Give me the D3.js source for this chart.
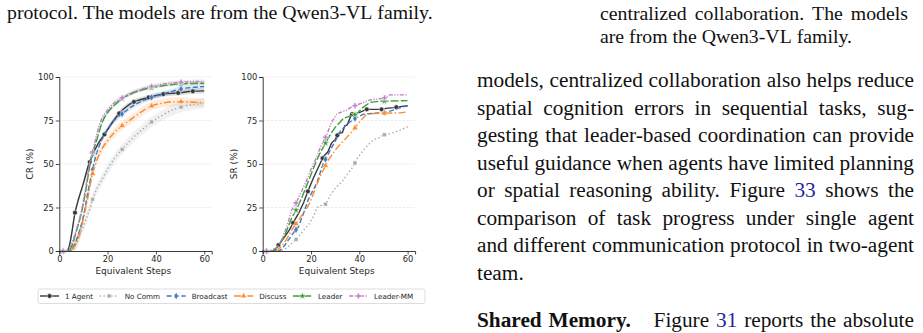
<!DOCTYPE html>
<html>
<head>
<meta charset="utf-8">
<script src="https://cdn.jsdelivr.net/npm/d3@7"></script>
<style>
body{margin:0;background:#fff}
</style>
</head>
<body>
<script>
// ---- data ----
var seriesNames = ["1 Agent","No Comm","Broadcast","Discuss","Leader","Leader-MM"];
var yTicks = [0,25,50,75,100];
var xTicks = [0,20,40,60];

// completion rate (left panel), [equivalent step, %]
var cr1Agent = [[0,0],[3,0],[4,2],[5,9],[6.5,22],[8,30],[10,39],[12,49],[14,56],[16,61.5],[19,67.6],[22,74],[25,79.5],[28,83.2],[31,85.8],[35,87.5],[39,89],[43,90.2],[49,90.8],[55,91.8],[60,92]];
var crNoComm = [[0,0],[5,0],[7,4],[9,11],[11,18],[13,26],[14,30.6],[16,37],[18,42],[20,47],[23,53.5],[26,58.4],[29,63],[32,67],[35,70.5],[38,74],[42,77.5],[46,80.5],[50,82.6],[55,84],[60,85]];
var crBroadcast = [[0,0],[4,0],[6,3],[8,10],[10,20],[12,35],[13.5,45],[15,54],[17,62],[20,70],[23,75.5],[26,78.8],[30,83],[34,86],[38,88.2],[42,89.8],[46,91.5],[50,93],[55,94],[60,94.5]];
var crDiscuss = [[0,0],[4,0],[6,2],[8,8],[10,19],[12,32],[13.5,43],[15,50],[17,57],[20,63.5],[23,68.5],[26,72],[29,75],[33,79],[38,83.3],[42,84.8],[46,85.6],[50,85.8],[55,85.5],[60,85.3]];
var crLeader = [[0,0],[4,0],[5.5,4],[7,11],[9,21],[11,35],[12.5,48],[14,57],[16,66],[17.5,73],[20,79.5],[23,84],[26,87.5],[30,90.5],[34,92.5],[38,93.8],[42,94.8],[46,95.5],[50,96],[55,96.3],[60,96.4]];
var crLeaderMM = [[0,0],[3,0],[5,4],[7,12],[9,22],[11,37],[12.5,50],[14,58],[15.5,67],[17,74],[20,81],[23,85.5],[26,88],[30,91],[34,93],[38,94.6],[42,95.7],[46,96.5],[50,97],[55,97.4],[60,97.5]];
// half width of the shaded band per series (CR only)
var crSpread = [1.5,3,1.5,2.5,1,1.2];

// success rate (right panel)
var sr1Agent = [[0,0],[5,0],[6.5,3.4],[9,8],[11,12],[13.4,18.2],[15,22],[17,28],[18.9,35],[21,42],[23,48],[25.1,54.2],[27,57],[28.5,62],[30,64],[31.3,67.6],[33,68],[34,72],[35,72.5],[36.8,78.6],[39,79],[43,81.4],[47,81.4],[50,81.4],[51,82],[54,82.4],[57,83],[60,83.5]];
var srNoComm = [[0,0],[7,0],[9,1],[11,3],[12.5,5],[14.3,7.3],[17,12],[19,15],[21,20],[22.5,25],[24,26],[26.2,27],[28,32],[30,36],[31.5,38],[33.4,40.8],[35,44],[37.5,48.5],[39,53],[41.7,58],[43.7,61],[45.8,63.8],[48,65],[50,66.7],[53,67.5],[56.9,69.5],[60,71.4]];
var srBroadcast = [[0,0],[7,0],[9,3],[11,7],[13,11],[14.7,13.6],[17,22],[19,30],[22.4,39],[25,50],[28,58],[30,63],[32,68.6],[35,73],[38,76],[41.7,78.6],[45,79],[50,79.5],[53,80.5],[56,82],[60,83.5]];
var srDiscuss = [[0,0],[6,0],[8,3],[10,7],[12,12],[14,16],[16,20],[18,24],[19.6,28],[21,33],[23.5,42],[27,52],[30.6,59],[34,64],[37.5,69.5],[40,74],[43,78.6],[46,79],[50,79.2],[54,79.3],[57,79.4],[60,80]];
var srLeader = [[0,0],[4,0],[6,2],[8,6],[10,12],[12,19],[14,24],[16,30],[18,37],[20,44],[22,51],[24,57],[26,62],[28,67],[30,71],[32,74],[33.4,76.2],[36,77.5],[38.9,78.6],[41,82],[44.4,85.4],[48,86],[52,86.2],[60,86.4]];
var srLeaderMM = [[0,0],[3,0],[6,2],[8,7],[10,14],[12,23.6],[14,28],[16,34],[18,40],[20,47],[22.4,54.2],[24,60],[26.5,66.7],[28.5,74],[30.6,78.6],[32,79.5],[34.8,81],[37,83],[38.9,83.9],[42,85.5],[44.4,86.8],[48,87.5],[50,87.7],[52.7,89.7],[60,89.7]];

// steps where markers sit
var agentMarkSteps = [6.5,12.6,18.7,24.8,30.9,37,43.1,49.2,55.3];
var teamMarkSteps = [1.6,13.8,26,38.2,50.4];

// page text
var captionLeft = ["protocol. The models are from the Qwen3-VL family."];
var captionRight = ["centralized collaboration. The models","are from the Qwen3-VL family."];
var bodyLines = [
  "models, centralized collaboration also helps reduce",
  "spatial cognition errors in sequential tasks, sug-",
  "gesting that leader-based coordination can provide",
  "useful guidance when agents have limited planning",
  "or spatial reasoning ability. Figure [33] shows the",
  "comparison of task progress under single agent",
  "and different communication protocol in two-agent",
  "team."
];
var headLine = "*Shared* *Memory.* Figure [31] reports the absolute";

// ---- styles ----
var colors = ["#383838","#aaaaaa","#4178be","#fb8a2a","#3a9e3a","#c07dc4"];
var dashes = [null,"1.4,2.4","5,2.4","7,2.4,1.4,2.4","8,2.2","4,1.5,1.2,1.5,1.2,1.5"];
var symbols = [d3.symbolCircle,d3.symbolSquare,d3.symbolDiamond,d3.symbolTriangle,d3.symbolStar,d3.symbolCross];
var symSize = [18,15,16,16,18,18];
var linkColor = "#25259c";
var ink = "#262626";

var svg = d3.select("body").append("svg")
  .attr("width",923).attr("height",333)
  .style("display","block");

var serif = "'Liberation Serif','Times New Roman',serif";
var sans = "'DejaVu Sans',sans-serif";

// ---- justified text ----
function setLine(line,x0,x1,y,size,justify){
  var words = line.split(" ").map(function(w){
    var o = {t:w,bold:false,link:false};
    if(/^\*.*\*$/.test(w)){o.t=w.slice(1,-1);o.bold=true;}
    if(/^\[.*\]$/.test(w)){o.t=w.slice(1,-1);o.link=true;}
    return o;
  });
  var nodes = words.map(function(w){
    return svg.append("text").attr("y",y)
      .style("font-family",serif).style("font-size",size+"px")
      .style("font-weight",w.bold?"bold":"normal")
      .attr("fill",w.link?linkColor:"#111").text(w.t);
  });
  var widths = nodes.map(function(n){return n.node().getComputedTextLength();});
  var extra = words.map(function(w,i){return (w.bold && words[i+1] && !words[i+1].bold)?size*0.75:0;});
  var total = d3.sum(widths)+d3.sum(extra);
  var gap = justify ? (x1-x0-total)/(words.length-1) : size*0.25;
  var x = x0;
  nodes.forEach(function(n,i){ n.attr("x",x); x += widths[i]+extra[i]+gap; });
}

setLine(captionLeft[0],7,435,19,19.8,false);
setLine(captionRight[0],600,908,20,19.8,true);
setLine(captionRight[1],600,908,43,19.8,false);
bodyLines.forEach(function(l,i){
  setLine(l,477,914,87+i*27.5,21.3,i<bodyLines.length-1);
});
setLine(headLine,477,914,327,21.3,true);

// ---- panels ----
var y = d3.scaleLinear().domain([0,100]).range([251,77]);

function valueAt(data,s){
  for(var i=1;i<data.length;i++){
    if(data[i][0]>=s){
      var a=data[i-1],b=data[i];
      return a[1]+(b[1]-a[1])*(s-a[0])/(b[0]-a[0]);
    }
  }
  return data[data.length-1][1];
}

function panel(x0,label,series,spread,curve){
  var x = d3.scaleLinear().domain([0,63.1]).range([x0,x0+152.4]);
  var g = svg.append("g");

  // grid
  g.selectAll(".grid").data(yTicks.slice(1)).enter().append("line")
    .attr("x1",x0).attr("x2",x0+152.4)
    .attr("y1",function(d){return y(d);}).attr("y2",function(d){return y(d);})
    .attr("stroke","#dedede").attr("stroke-width",0.6).attr("stroke-dasharray","2.5,1.5");

  // bands
  if(spread){
    series.forEach(function(d,i){
      var area = d3.area().curve(curve)
        .x(function(p){return x(p[0]);})
        .y0(function(p){return y(Math.max(0,p[1]-spread[i]));})
        .y1(function(p){return y(p[1]===0?0:Math.min(100,p[1]+spread[i]));});
      g.append("path").attr("d",area(d)).attr("fill",colors[i]).attr("fill-opacity",0.16);
    });
  }

  // lines + markers
  series.forEach(function(d,i){
    var line = d3.line().curve(curve).x(function(p){return x(p[0]);}).y(function(p){return y(p[1]);});
    g.append("path").attr("d",line(d)).attr("fill","none")
      .attr("stroke",colors[i]).attr("stroke-width",1.4)
      .attr("stroke-dasharray",dashes[i]);
    var marks = (i===0?agentMarkSteps:teamMarkSteps);
    g.selectAll(null).data(marks).enter().append("path")
      .attr("d",d3.symbol().type(symbols[i]).size(symSize[i]))
      .attr("transform",function(s){return "translate("+x(s)+","+y(valueAt(d,s))+")";})
      .attr("fill",colors[i]).attr("stroke","#fff").attr("stroke-width",0.5);
  });

  // axes
  var ax = g.append("g").attr("transform","translate(0,251)")
    .call(d3.axisBottom(x).tickValues(xTicks).tickSize(3.5).tickPadding(2));
  var ay = g.append("g").attr("transform","translate("+x0+",0)")
    .call(d3.axisLeft(y).tickValues(yTicks).tickSize(3.5).tickPadding(2));
  [ax,ay].forEach(function(a){
    a.select(".domain").attr("stroke",ink).attr("stroke-width",0.9);
    a.selectAll(".tick line").attr("stroke",ink).attr("stroke-width",0.8);
    a.selectAll("text").attr("fill",ink).style("font-family",sans).style("font-size","8.3px");
  });

  g.append("text").attr("x",x0+74).attr("y",274).attr("text-anchor","middle")
    .attr("fill",ink).style("font-family",sans).style("font-size","9px").text("Equivalent Steps");
  g.append("text").attr("transform","translate("+(x0-26)+",164) rotate(-90)")
    .attr("text-anchor","middle").attr("fill",ink)
    .style("font-family",sans).style("font-size","9px").text(label);
}

panel(59.3,"CR (%)",[cr1Agent,crNoComm,crBroadcast,crDiscuss,crLeader,crLeaderMM],crSpread,d3.curveMonotoneX);
panel(262.7,"SR (%)",[sr1Agent,srNoComm,srBroadcast,srDiscuss,srLeader,srLeaderMM],null,d3.curveLinear);

// ---- legend ----
var leg = svg.append("g");
leg.append("rect").attr("x",38).attr("y",289).attr("width",387).attr("height",14.5)
  .attr("rx",2).attr("fill","#fff").attr("stroke","#d4d4d4").attr("stroke-width",0.8);
var lx = 40;
seriesNames.forEach(function(name,i){
  leg.append("line").attr("x1",lx).attr("x2",lx+19).attr("y1",296).attr("y2",296)
    .attr("stroke",colors[i]).attr("stroke-width",1.4).attr("stroke-dasharray",dashes[i]);
  leg.append("path").attr("d",d3.symbol().type(symbols[i]).size(symSize[i]))
    .attr("transform","translate("+(lx+9.5)+",296)")
    .attr("fill",colors[i]).attr("stroke","#fff").attr("stroke-width",0.5);
  var t = leg.append("text").attr("x",lx+25).attr("y",298.7).attr("fill",ink)
    .style("font-family",sans).style("font-size","7.2px").text(name);
  lx += 25 + t.node().getComputedTextLength() + 6.5;
});
</script>
</body>
</html>
